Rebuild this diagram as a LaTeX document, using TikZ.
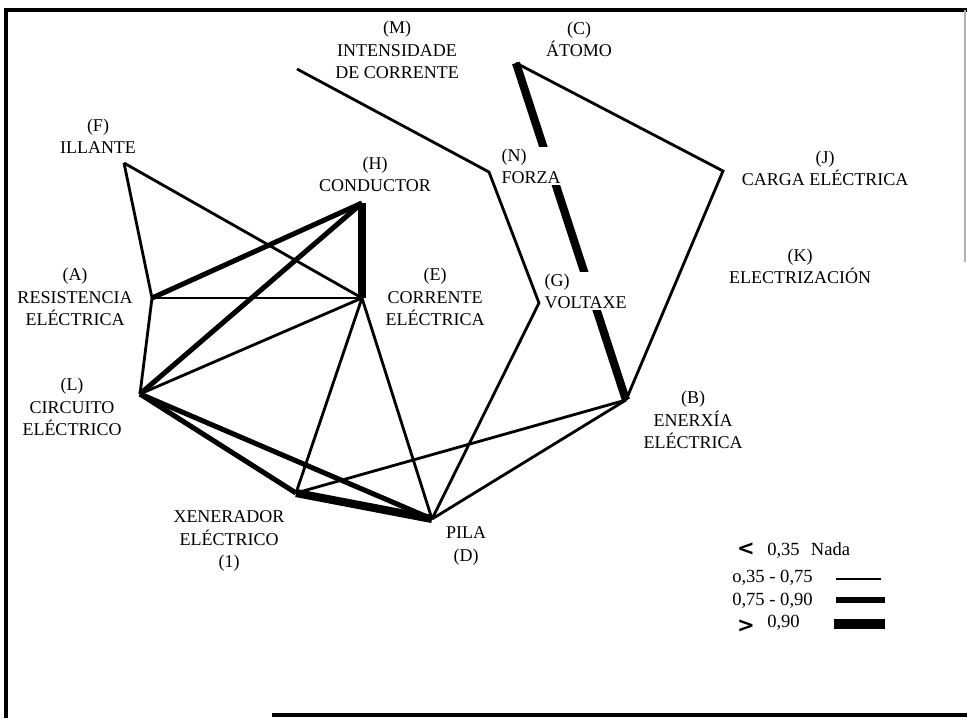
\documentclass[tikz,border=0pt]{standalone}
\usepackage{fontspec}
\setmainfont{Liberation Serif}
\newfontfamily\signfont{DejaVu Sans}
\usepackage{tikz}
\tikzset{
  concept/.style={
    align=center, inner sep=1pt,
    font=\fontsize{12.8}{15.8}\selectfont
  },
  conceptleft/.style={
    concept, align=left, anchor=west, fill=white
  },
  thinlink/.style={line width=2pt},
  midlink/.style={line width=3.6pt},
  thicklink/.style={line width=5.8pt},
  legendtext/.style={
    anchor=west, inner sep=0pt,
    font=\fontsize{13.2}{15.8}\selectfont
  },
  legendsign/.style={
    inner sep=0pt, font=\signfont\fontsize{15}{15}\selectfont\bfseries
  },
  framerule/.style={line width=2.2pt},
}

\begin{document}
\begin{tikzpicture}[x=0.025cm, y=-0.025cm]
  \useasboundingbox (0,0) rectangle (967,718);

  % --- Frame ---
  \draw[framerule] (4,10) -- (967,10);
  \draw[framerule] (6,9) -- (6,718);
  \draw[framerule] (272,715) -- (967,715);
  \draw[gray!60, line width=0.8pt] (965,10) -- (965,262);

  % --- Vertices ---
  \coordinate (vM) at (297,69);
  \coordinate (vN) at (489,172);
  \coordinate (vG) at (539,303);
  \coordinate (vD) at (432,519);
  \coordinate (vC) at (516,63);
  \coordinate (vJ) at (723,171);
  \coordinate (vB) at (626,400);
  \coordinate (vX) at (296,493);
  \coordinate (vF) at (124,163);
  \coordinate (vA) at (152,298);
  \coordinate (vE) at (362,298);
  \coordinate (vH) at (362,203);
  \coordinate (vL) at (140,394);

  % --- Links: 0,35 - 0,75 ---
  \draw[thinlink] (vM) -- (vN) -- (vG) -- (vD);
  \draw[thinlink] (vC) -- (vJ) -- (vB);
  \draw[thinlink] (vB) -- (vX);
  \draw[thinlink] (vB) -- (vD);
  \draw[thinlink] (vF) -- (vA);
  \draw[thinlink] (vF) -- (vE);
  \draw[thinlink] (vA) -- (vE);
  \draw[thinlink] (vA) -- (vL);
  \draw[thinlink] (vE) -- (vL);
  \draw[thinlink] (vE) -- (vX);
  \draw[thinlink] (vE) -- (vD);

  % --- Links: 0,75 - 0,90 ---
  \draw[midlink] (vH) -- (vA);
  \draw[midlink] (vH) -- (vL);
  \draw[midlink] (vL) -- (vX);
  \draw[midlink] (vL) -- (vD);

  % --- Links: > 0,90 ---
  \draw[thicklink] (vH) -- (vE);
  \draw[thicklink] (vC) -- (vB);
  \draw[thicklink] (vX) -- (vD);

  % --- Concepts ---
  \node[concept] (m) at (397,50) {(M)\\INTENSIDADE\\DE CORRENTE};
  \node[concept] (c) at (579,39) {(C)\\ÁTOMO};
  \node[concept] (f) at (98,136) {(F)\\ILLANTE};
  \node[concept] (h) at (375,174) {(H)\\CONDUCTOR};
  \node[conceptleft] (n) at (500,166) {(N)\\FORZA};
  \node[concept] (j) at (825,168) {(J)\\CARGA ELÉCTRICA};
  \node[concept] (k) at (800,266) {(K)\\ELECTRIZACIÓN};
  \node[concept] (a) at (75,297) {(A)\\RESISTENCIA\\ELÉCTRICA};
  \node[concept] (e) at (435,297) {(E)\\CORRENTE\\ELÉCTRICA};
  \node[conceptleft] (g) at (543,291) {(G)\\VOLTAXE};
  \node[concept] (l) at (72,407) {(L)\\CIRCUITO\\ELÉCTRICO};
  \node[concept] (b) at (693,420) {(B)\\ENERXÍA\\ELÉCTRICA};
  \node[concept] (x) at (229,541) {XENERADOR\\ELÉCTRICO\\(1)};
  \node[concept] (d) at (466,546) {PILA\\(D)};

  % --- Legend ---
  \node[legendsign] (lt) at (746,549) {<};
  \node[legendtext] (nada) at (767,550) {0,35\hspace{0.6em}Nada};
  \node[legendtext] (low) at (732,578) {o,35 - 0,75};
  \node[legendtext] (mid) at (732,601) {0,75 - 0,90};
  \node[legendsign] (gt) at (746,626) {>};
  \node[legendtext] (high) at (767,623) {0,90};
  \coordinate (lowa) at (836,579);  \coordinate (lowb) at (881,579);
  \coordinate (mida) at (836,600);  \coordinate (midb) at (885,600);
  \coordinate (higha) at (834,624); \coordinate (highb) at (885,624);
  \draw[thinlink, line width=2pt] (lowa) -- (lowb);
  \draw[midlink, line width=4.2pt] (mida) -- (midb);
  \draw[thicklink, line width=7pt] (higha) -- (highb);

\end{tikzpicture}
\end{document}
